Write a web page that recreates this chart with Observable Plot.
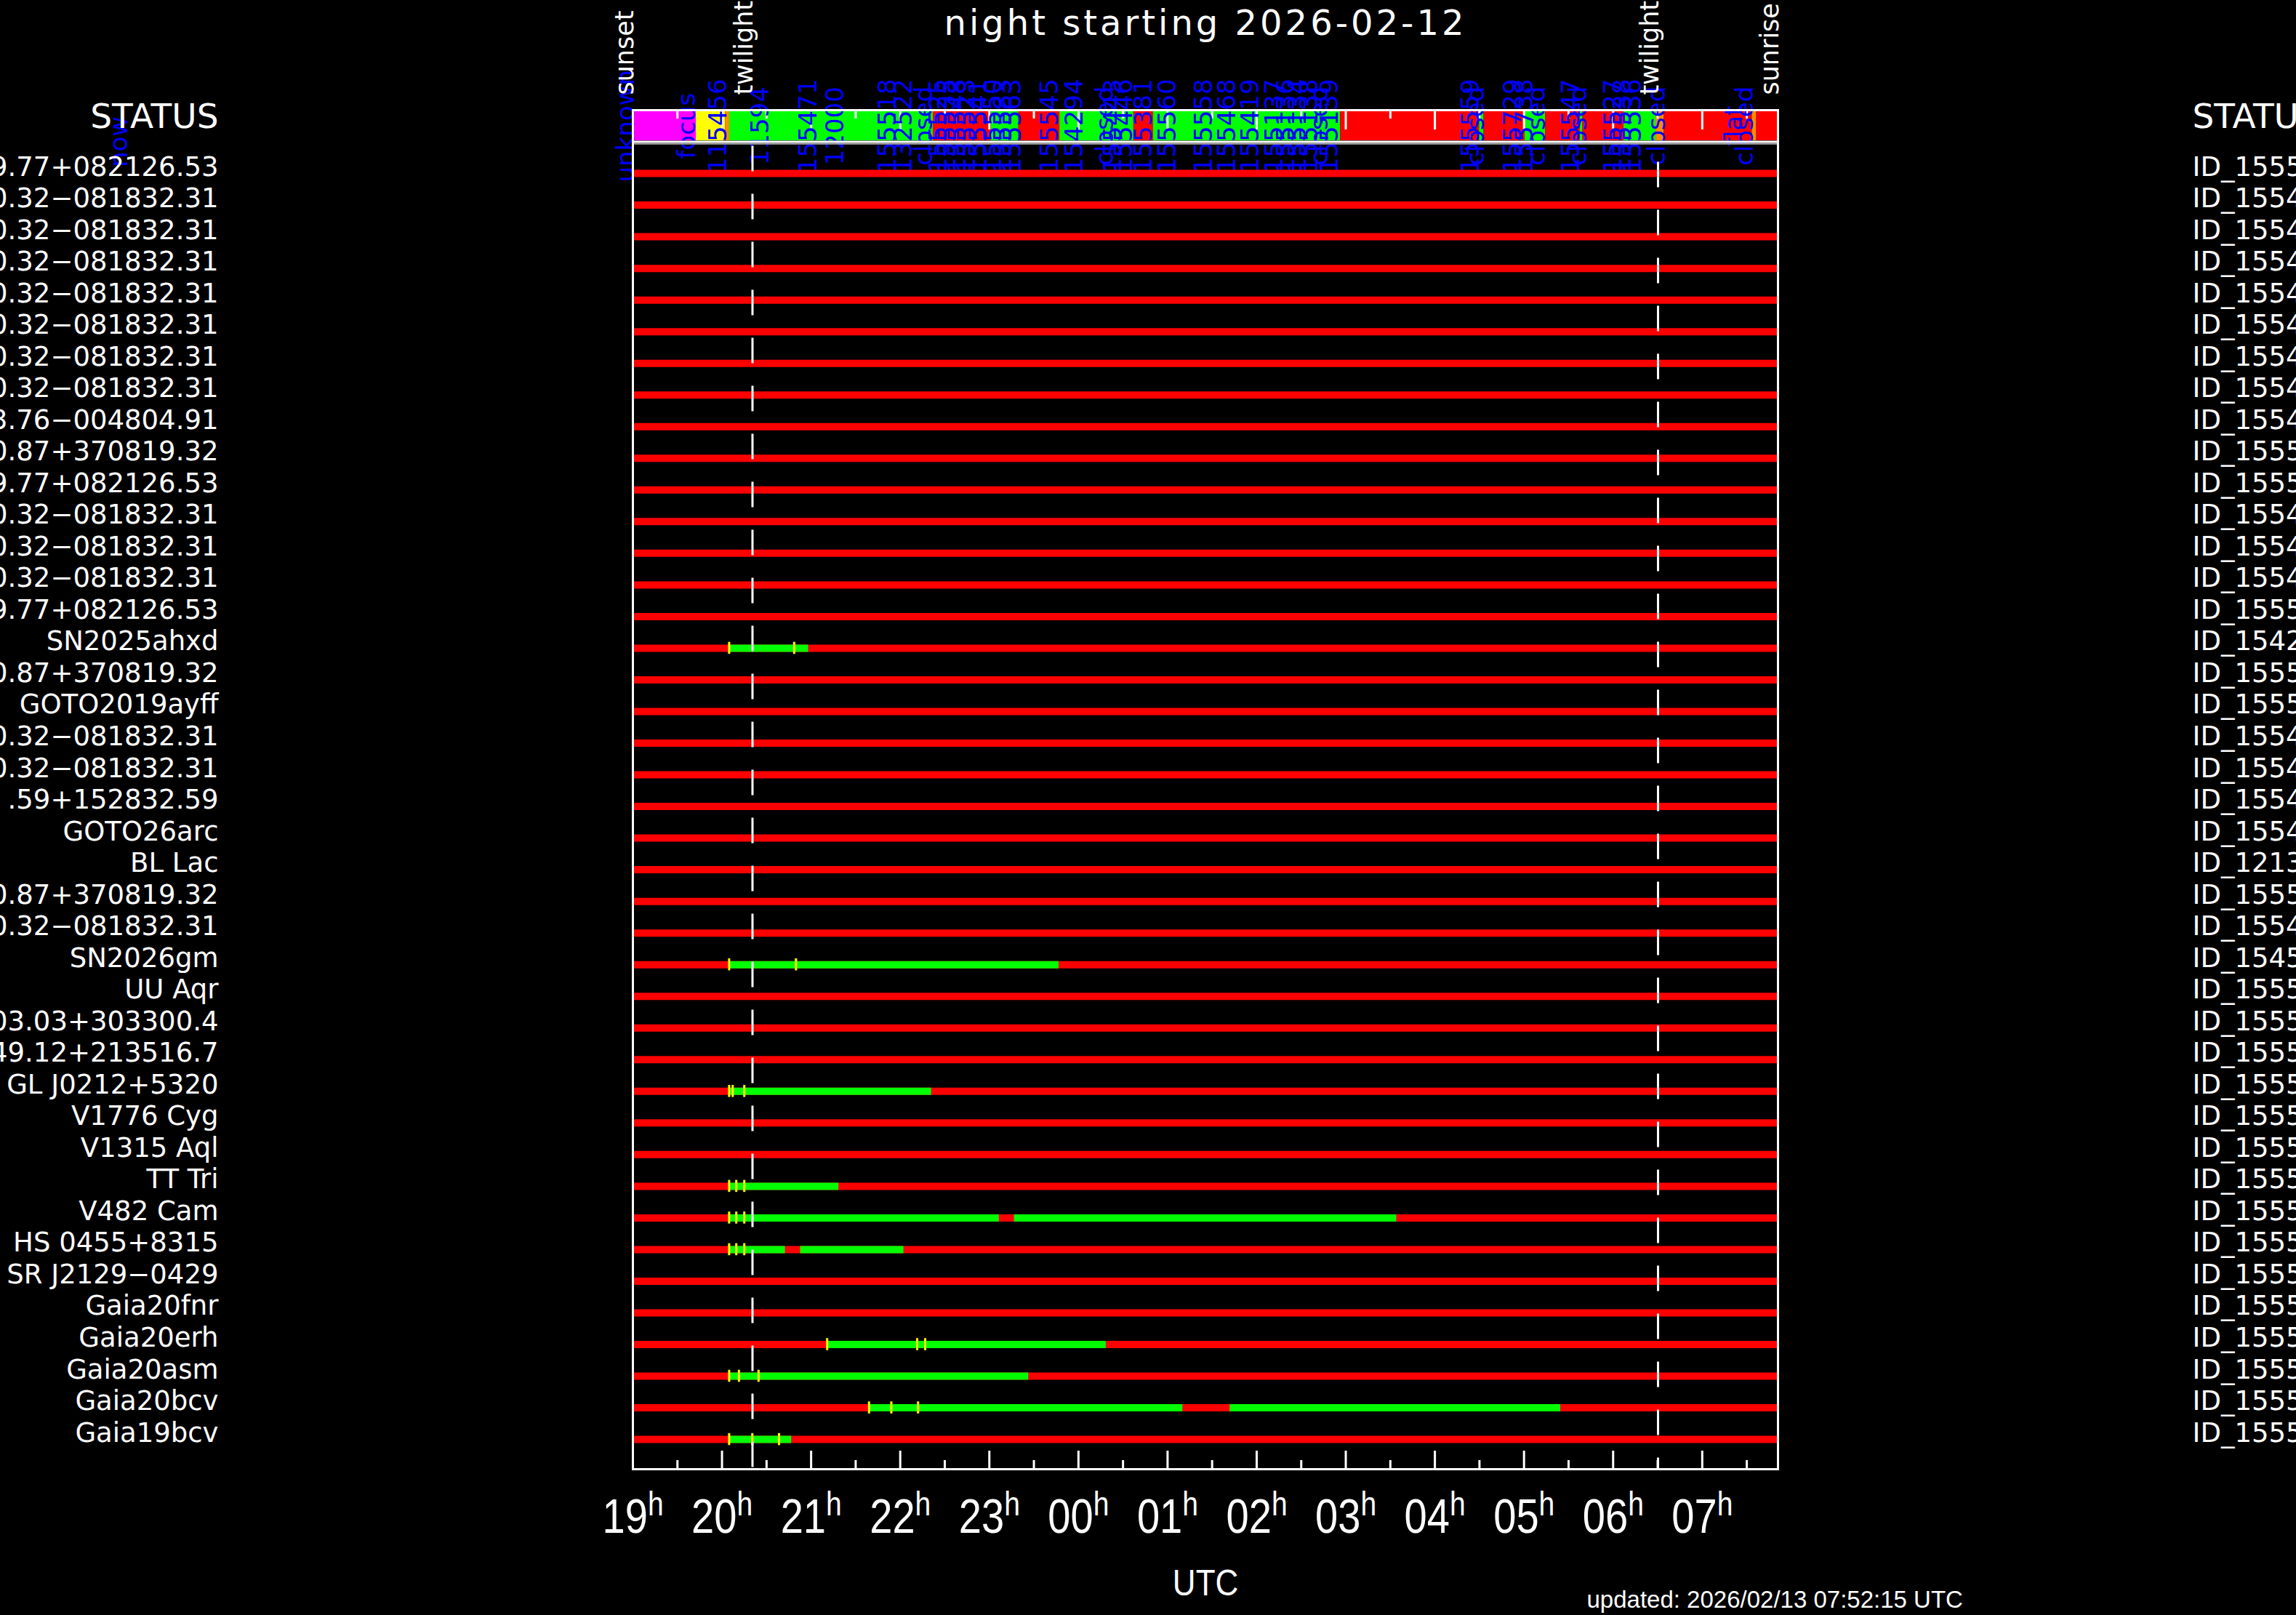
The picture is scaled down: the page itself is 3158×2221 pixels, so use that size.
<!DOCTYPE html>
<html><head><meta charset="utf-8">
<script src="https://cdn.jsdelivr.net/npm/d3@7"></script>
<script src="https://cdn.jsdelivr.net/npm/@observablehq/plot@0.6"></script>
<style>
html,body{margin:0;padding:0;background:#000;overflow:hidden;}
#chart svg{display:block;}
</style></head><body><div id="chart"></div>
<script>
// ---- data (times are UTC hours; after midnight continues as 24+) ----
const targetNames = ["9.77+082126.53","0.32−081832.31","0.32−081832.31","0.32−081832.31","0.32−081832.31","0.32−081832.31","0.32−081832.31","0.32−081832.31","3.76−004804.91","0.87+370819.32","9.77+082126.53","0.32−081832.31","0.32−081832.31","0.32−081832.31","9.77+082126.53","SN2025ahxd","0.87+370819.32","GOTO2019ayff","0.32−081832.31","0.32−081832.31",".59+152832.59","GOTO26arc","BL Lac","0.87+370819.32","0.32−081832.31","SN2026gm","UU Aqr","03.03+303300.4","49.12+213516.7","GL J0212+5320","V1776 Cyg","V1315 Aql","TT Tri","V482 Cam","HS 0455+8315","SR J2129−0429","Gaia20fnr","Gaia20erh","Gaia20asm","Gaia20bcv","Gaia19bcv"];
const targetIds = ["ID_155545","ID_155419","ID_155468","ID_155458","ID_155443","ID_155446","ID_155429","ID_155471","ID_155494","ID_155518","ID_155560","ID_155416","ID_155423","ID_155438","ID_155583","ID_154294","ID_155525","ID_155535","ID_155448","ID_155454","ID_155456","ID_155462","ID_121356","ID_155538","ID_155464","ID_154522","ID_155547","ID_155527","ID_155536","ID_155559","ID_155548","ID_155554","ID_155523","ID_155541","ID_155550","ID_155563","ID_155581","ID_155513","ID_155519","ID_155533","ID_155539"];

const greenRow   = [16, 26, 30, 33, 34, 34, 35, 35, 38, 39, 40, 40, 41];
const greenStart = [20.08, 20.08, 20.08, 20.08, 20.08, 23.28, 20.08, 20.88, 21.18, 20.08, 21.65, 25.70, 20.08];
const greenEnd   = [20.97, 23.78, 22.35, 21.31, 23.11, 27.57, 20.71, 22.04, 24.31, 23.44, 25.17, 29.41, 20.78];

const expRow  = [16,16, 26,26, 30,30,30, 33,33,33, 34,34,34, 35,35,35, 38,38,38, 39,39,39, 40,40,40, 41,41,41];
const expTime = [20.08,20.81, 20.08,20.83, 20.08,20.12,20.25, 20.08,20.16,20.25, 20.08,20.16,20.25, 20.08,20.16,20.25, 21.18,22.19,22.28, 20.08,20.19,20.41, 21.65,21.90,22.20, 20.08,20.34,20.64];

const stateNames = ["calibration","focus","slewing","observing","closed"];
const statusState = ["calibration","focus","slewing","observing","closed","observing","closed","observing","closed","observing","closed","observing","closed","observing","closed","observing","closed","observing","slewing","closed","slewing","closed"];
const statusStart = [19.00,19.71,20.04,20.085,22.37,23.02,23.33,23.79,24.62,24.84,26.94,28.50,28.55,29.01,29.24,29.63,29.66,30.12,30.48,30.57,31.56,31.61];
const statusEnd   = [19.71,20.04,20.085,22.37,23.02,23.33,23.79,24.62,24.84,26.94,28.50,28.55,29.01,29.24,29.63,29.66,30.12,30.48,30.57,31.56,31.61,31.85];

const queueLabel = ["unknown","focus","115456","11594","155471","12000","155518","132522","closed","155525","155535","155548","155523","155541","155550","155583","155563","155545","154294","closed","155443","155446","155381","155560","155558","155468","155419","155137","155136","155134","155138","closed","155139","155559","closed","155729","155738","closed","155547","closed","155527","155538","155536","closed","flat","closed"];
const queueTime  = [18.92,19.61,19.96,20.43,20.97,21.27,21.86,22.04,22.27,22.43,22.53,22.64,22.75,22.88,23.04,23.16,23.26,23.68,23.96,24.30,24.39,24.51,24.73,25.00,25.41,25.67,25.93,26.20,26.33,26.46,26.59,26.71,26.82,28.40,28.46,28.88,29.01,29.15,29.53,29.61,30.00,30.11,30.22,30.49,31.36,31.48];

const eventName = ["sunset","twilight","twilight","sunrise"];
const eventTime = [19.00, 20.342, 30.504, 31.85];

const hourLabels = ["19","20","21","22","23","00","01","02","03","04","05","06","07"];
const hourTime   = [19,20,21,22,23,24,25,26,27,28,29,30,31];
const halfTime   = [19.5,20.5,21.5,22.5,23.5,24.5,25.5,26.5,27.5,28.5,29.5,30.5,31.5];

const nowTime = 13.24;
const titleText = "night starting 2026-02-12";
const updatedText = "updated: 2026/02/13 07:52:15 UTC";

// ---- tables ----
const rows = targetNames.map((name, i) => ({row: i + 1, name, id: targetIds[i]}));
const green = greenRow.map((row, i) => ({row, start: greenStart[i], end: greenEnd[i]}));
const exps = expRow.map((row, i) => ({row, t: expTime[i]}));
const status = statusState.map((s, i) => ({s, x1: statusStart[i], x2: statusEnd[i]}));
const queue = queueLabel.map((label, i) => ({label, t: queueTime[i]}));
const events = eventName.map((name, i) => ({name, t: eventTime[i]}));
const hours = hourLabels.map((label, i) => ({label, t: hourTime[i]}));

const W = 3158, H = 2221;
const frameH = 2221 - 151 - 201;
const DV = "DejaVu Sans";
const LS = "Liberation Sans";

const svg = Plot.plot({
  width: W, height: H,
  marginLeft: 870, marginRight: 713, marginTop: 151, marginBottom: 201,
  style: {background: "black", color: "white", fontFamily: DV},
  x: {domain: [19, 31.85], axis: null},
  y: {domain: [-1, 41.94], reverse: true, axis: null},
  color: {domain: stateNames, range: ["#ff00ff","#ffff00","#ff8c00","#00ff00","#ff0000"]},
  marks: [
    // status bar
    Plot.rect(status, {x1: "x1", x2: "x2", y1: -0.955, y2: -0.035, fill: "s"}),
    Plot.ruleX(hourTime, {stroke: "white", strokeWidth: 3, insetBottom: frameH - 27}),
    Plot.ruleX(halfTime, {stroke: "white", strokeWidth: 3, insetBottom: frameH - 12}),
    Plot.text(queue, {x: "t", y: -0.5, text: "label", rotate: -90, fill: "#0000ff", fontSize: 34, textAnchor: "middle", lineAnchor: "middle"}),
    Plot.text(["now"], {x: nowTime, y: 0, text: d => d, rotate: -90, fill: "#0000ff", fontSize: 34, textAnchor: "middle", lineAnchor: "middle"}),
    Plot.ruleY([0], {stroke: "white", strokeWidth: 3}),
    Plot.ruleY([0.06], {stroke: "#aaaaaa", strokeWidth: 2}),
    // target rows
    Plot.ruleY(rows, {y: "row", stroke: "#ff0000", strokeWidth: 10}),
    Plot.ruleY(green, {y: "row", x1: "start", x2: "end", stroke: "#00ff00", strokeWidth: 10}),
    Plot.ruleX(exps, {x: "t", y1: d => d.row - 0.19, y2: d => d.row + 0.19, stroke: "#ffff00", strokeWidth: 3}),
    // twilight lines
    Plot.ruleX([eventTime[1]], {y1: 0, y2: 41.94, stroke: "white", strokeWidth: 3, strokeDasharray: "35,31", strokeDashoffset: 60}),
    Plot.ruleX([eventTime[2]], {y1: 0, y2: 41.94, stroke: "white", strokeWidth: 3, strokeDasharray: "35,31", strokeDashoffset: 38}),
    // bottom ticks
    Plot.ruleX(hourTime, {stroke: "white", strokeWidth: 3, insetTop: frameH - 25}),
    Plot.ruleX(halfTime, {stroke: "white", strokeWidth: 3, insetTop: frameH - 12}),
    Plot.frame({stroke: "white", strokeWidth: 3}),
    // event labels
    Plot.text(events, {x: "t", y: -1.48, text: "name", rotate: -90, textAnchor: "start", lineAnchor: "bottom", fill: "white", fontSize: 35}),
    // row labels
    Plot.text(rows, {y: "row", text: "name", frameAnchor: "left", textAnchor: "end", dx: -570, dy: 3, lineAnchor: "bottom", fontSize: 37, fill: "white"}),
    Plot.text(rows, {y: "row", text: "id", frameAnchor: "right", textAnchor: "start", dx: 570, dy: 3, lineAnchor: "bottom", fontSize: 37, fill: "white"}),
    Plot.text(["STATUS"], {text: d => d, frameAnchor: "top-left", textAnchor: "end", dx: -570, dy: 24, lineAnchor: "bottom", fontSize: 47, fill: "white"}),
    Plot.text(["STATUS"], {text: d => d, frameAnchor: "top-right", textAnchor: "start", dx: 570, dy: 24, lineAnchor: "bottom", fontSize: 47, fill: "white"}),
    // title
    Plot.text([titleText], {text: d => d, frameAnchor: "top", dy: -104, lineAnchor: "bottom", fontSize: 48, fill: "white"}),
    // hour labels
    Plot.text(hours, {x: "t", text: "label", frameAnchor: "bottom", lineAnchor: "bottom", dy: 87, fontSize: 66, fontFamily: LS, fill: "white"}),
    Plot.text(["UTC"], {text: d => d, frameAnchor: "bottom", dy: 173, lineAnchor: "bottom", fontSize: 50, fontFamily: LS, fill: "white"}),
    Plot.text([updatedText], {text: d => d, frameAnchor: "bottom-right", textAnchor: "start", dx: -263, dy: 190, lineAnchor: "bottom", fontSize: 33, fontFamily: LS, fill: "white"})
  ]
});

document.getElementById("chart").appendChild(svg);

// post-styling: superscript "h" on hour labels, condensed axis text, spaced title
const condense = (t, s) => {
  const r = t.getBoundingClientRect();
  const sr = svg.getBoundingClientRect();
  const cx = r.x - sr.x + r.width / 2;
  const prev = t.getAttribute("transform") || "";
  t.setAttribute("transform", `translate(${cx},0) scale(${s},1) translate(${-cx},0) ${prev}`);
};
svg.querySelectorAll("text").forEach(t => {
  const s = t.textContent;
  if (/^\d\d$/.test(s)) {
    const ts = document.createElementNS("http://www.w3.org/2000/svg", "tspan");
    ts.setAttribute("dy", "-24");
    ts.setAttribute("font-size", "46");
    ts.textContent = "h";
    t.appendChild(ts);
    condense(t, 0.85);
  } else if (s === "UTC") {
    condense(t, 0.88);
  } else if (s === titleText) {
    t.style.letterSpacing = "4px";
  }
});
</script>
</body></html>
